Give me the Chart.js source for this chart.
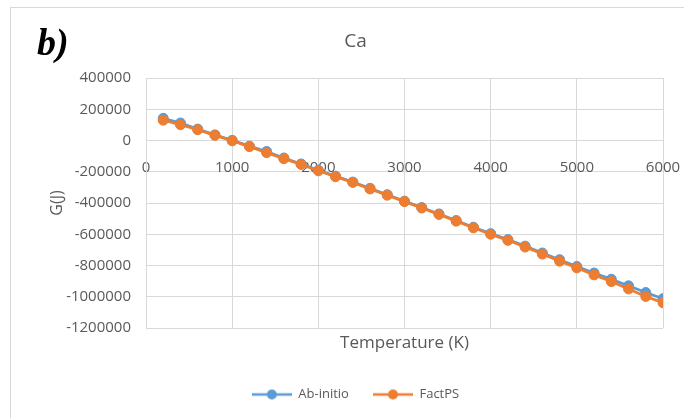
<!DOCTYPE html>
<html><head><meta charset="utf-8">
<script src="https://cdn.jsdelivr.net/npm/chart.js@4.4.0/dist/chart.umd.min.js"></script>
<style>
html,body{margin:0;padding:0;width:684px;height:418px;overflow:hidden;background:#fff;}
#frame{position:absolute;left:10px;top:7px;width:730px;height:440px;border:1px solid #d9d9d9;box-sizing:border-box;}
#cv{position:absolute;left:10px;top:7px;}
#tag{position:absolute;left:37px;top:20px;font-family:"Liberation Serif",serif;font-weight:bold;font-style:italic;font-size:38px;line-height:44px;color:#000;}
</style></head>
<body>
<div id="frame"></div>
<canvas id="cv" width="696" height="420"></canvas>
<div id="tag">b)</div>
<script>
const temps = [200,400,600,800,1000,1200,1400,1600,1800,2000,2200,2400,2600,2800,3000,3200,3400,3600,3800,4000,4200,4400,4600,4800,5000,5200,5400,5600,5800,6000];
const abInitio = [142000,112000,73000,36000,1000,-36000,-70000,-112000,-150000,-190000,-228000,-266000,-306000,-347000,-388000,-429000,-470000,-512000,-555000,-596000,-634000,-676000,-720000,-763000,-806000,-848000,-888000,-930000,-973000,-1012000];
const factPS = [130000,101000,69000,33000,-2000,-39000,-78000,-116000,-153000,-194000,-232000,-268000,-310000,-350000,-391000,-432000,-473000,-516000,-559000,-600000,-639000,-682000,-727000,-772000,-815000,-860000,-903000,-950000,-998000,-1038000];
const xTicks = [0,1000,2000,3000,4000,5000,6000];
const yTicks = [-1200000,-1000000,-800000,-600000,-400000,-200000,0,200000,400000];

const FONT = '"Open Sans", sans-serif';
const TXT = '#595959';
const GRID = '#d9d9d9';
const BLUE = '#5B9BD5';
const ORANGE = '#ED7D31';

function makeIcon(color){
  const c = document.createElement('canvas');
  c.width = 40; c.height = 12;
  const g = c.getContext('2d');
  g.strokeStyle = color; g.lineWidth = 2.5;
  g.beginPath(); g.moveTo(0,6); g.lineTo(40,6); g.stroke();
  g.fillStyle = color;
  g.beginPath(); g.arc(20,6,5,0,Math.PI*2); g.fill();
  return c;
}
function pts(vals){ return temps.map((t,i)=>({x:t,y:vals[i]})); }

new Chart(document.getElementById('cv'), {
  type:'line',
  data:{datasets:[
    {label:'Ab-initio',data:pts(abInitio),borderColor:BLUE,backgroundColor:BLUE,pointBackgroundColor:BLUE,pointBorderColor:BLUE,pointRadius:5,pointBorderWidth:1,borderWidth:2.75,tension:0,order:1},
    {label:'FactPS',data:pts(factPS),borderColor:ORANGE,backgroundColor:ORANGE,pointBackgroundColor:ORANGE,pointBorderColor:ORANGE,pointRadius:5,pointBorderWidth:1,borderWidth:2.75,tension:0,order:0}
  ]},
  options:{
    responsive:false, animation:false, devicePixelRatio:1,
    layout:{padding:{left:38,right:43,top:0,bottom:16}},
    plugins:{
      title:{display:true,text:'Ca',color:TXT,font:{family:FONT,size:19,weight:'normal'},padding:{top:23.6,bottom:24.6}},
      legend:{position:'bottom',labels:{usePointStyle:true,pointStyleWidth:40,color:TXT,font:{family:FONT,size:13},padding:24,
        sort:(a,b)=>a.datasetIndex-b.datasetIndex,
        generateLabels:(chart)=>{
          const items = Chart.defaults.plugins.legend.labels.generateLabels(chart);
          items.forEach(it=>{ it.pointStyle = makeIcon(chart.data.datasets[it.datasetIndex].borderColor); });
          return items;
        }}},
      tooltip:{enabled:false}
    },
    scales:{
      x:{type:'linear',position:{y:0},min:0,max:6000,
        grid:{color:GRID,drawTicks:false},border:{color:GRID},
        ticks:{color:TXT,font:{family:FONT,size:15},padding:18,maxRotation:0,callback:(v)=>String(v)},
        afterBuildTicks:(s)=>{ s.ticks = xTicks.map(v=>({value:v})); }},
      x2:{type:'linear',position:'bottom',min:0,max:6000,
        grid:{display:false,drawTicks:false},border:{display:false},ticks:{display:false},
        title:{display:true,text:'Temperature (K)',color:TXT,font:{family:FONT,size:17},padding:{top:4.8,bottom:10.8}}},
      y:{type:'linear',min:-1200000,max:400000,
        grid:{color:GRID,drawTicks:false},border:{color:GRID},
        ticks:{color:TXT,font:{family:FONT,size:15},padding:15,callback:(v)=>String(v)},
        afterBuildTicks:(s)=>{ s.ticks = yTicks.map(v=>({value:v})); },
        title:{display:true,text:'G(J)',color:TXT,font:{family:FONT,size:16},padding:{top:0,bottom:0}},
        afterFit:(s)=>{ s.width = 98; }}
    }
  }
});
</script>
</body></html>
